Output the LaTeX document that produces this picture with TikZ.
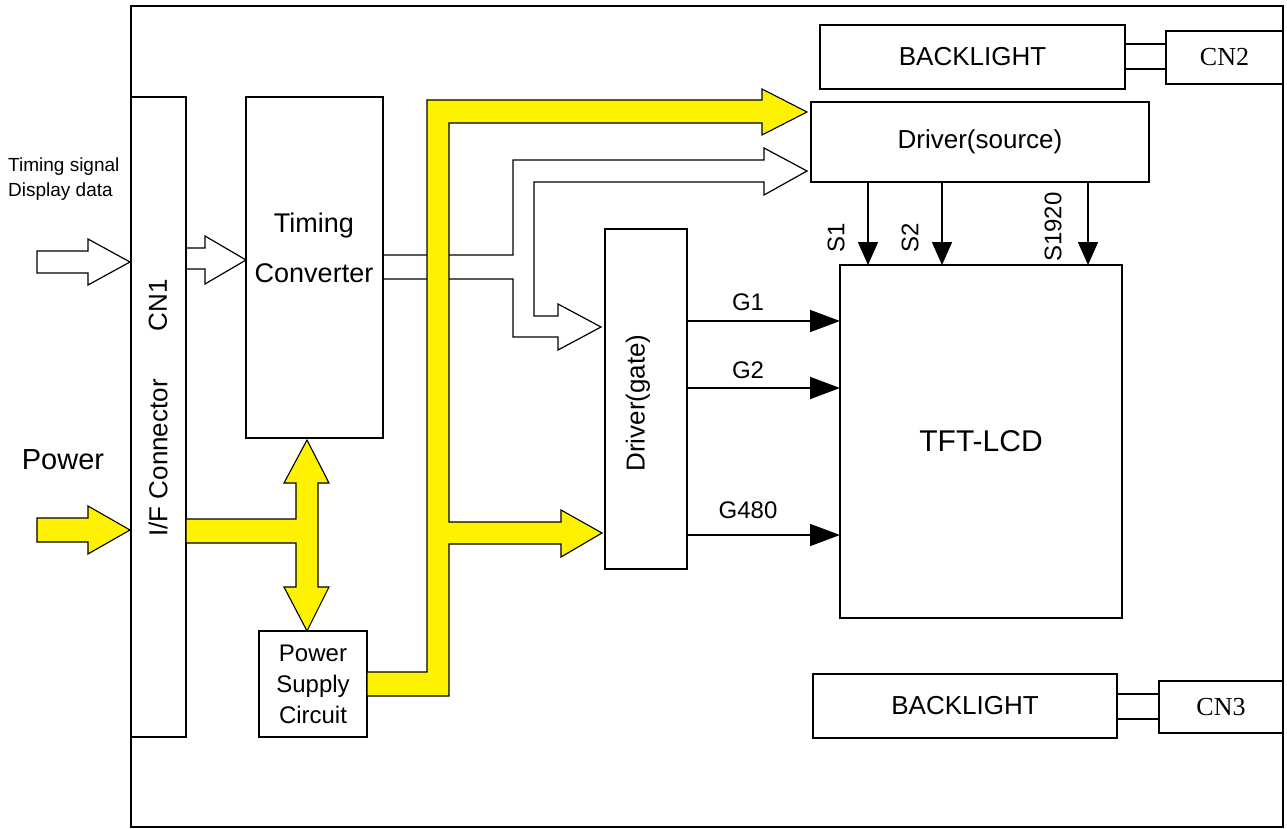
\documentclass[tikz,border=0pt]{standalone}
\usepackage{fontspec}
\setmainfont{Liberation Sans}
\newfontfamily\cnfont{Liberation Serif}
\usetikzlibrary{arrows.meta}
\begin{document}
\begin{tikzpicture}[x=1pt,y=-1pt,
  box/.style={draw, line width=1.4pt, inner sep=0pt, outer sep=0pt},
  lbl/.style={inner sep=0pt, font=\fontsize{24}{28}\selectfont},
  bigl/.style={inner sep=0pt, font=\fontsize{26}{30}\selectfont},
  cnl/.style={inner sep=0pt, font=\cnfont\fontsize{26}{30}\selectfont},
  ybus/.style={draw, line width=1.1pt, fill=yellow},
  hbus/.style={draw, line width=1.2pt},
  garrow/.style={line width=1.6pt, -{Triangle[length=30pt,width=22pt]}},
  sarrow/.style={line width=1.6pt, -{Triangle[length=23pt,width=20pt]}},
  wire/.style={line width=1.2pt}]
\useasboundingbox (0,0) rectangle (1287,829);

% frame
\node[box, minimum width=1152pt, minimum height=821pt] (frame) at (707,416.5) {};

% boxes
\node[box, minimum width=55pt, minimum height=640pt] (cn1) at (158.5,417) {};
\node[box, minimum width=137pt, minimum height=341pt] (tc) at (314.5,267.5) {};
\node[box, minimum width=108pt, minimum height=106pt, align=center, font=\fontsize{24}{31}\selectfont] (psc) at (313,684) {Power\\Supply\\Circuit};
\node[box, minimum width=82pt, minimum height=340pt] (dg) at (646,399) {};
\node[box, minimum width=338pt, minimum height=80pt, font=\fontsize{26}{30}\selectfont] (ds) at (980,142) {Driver(source)};
\node[box, minimum width=305pt, minimum height=64pt, font=\fontsize{26}{30}\selectfont] (bl1) at (972.5,57) {BACKLIGHT};
\node[box, minimum width=117pt, minimum height=53pt, font=\cnfont\fontsize{26}{30}\selectfont] (cn2) at (1224.5,57.5) {CN2};
\node[box, minimum width=282pt, minimum height=353pt, font=\fontsize{30}{34}\selectfont] (tft) at (981,441.5) {TFT-LCD};
\node[box, minimum width=304pt, minimum height=64pt, font=\fontsize{26}{30}\selectfont] (bl2) at (965,706) {BACKLIGHT};
\node[box, minimum width=124pt, minimum height=52pt, font=\cnfont\fontsize{26}{30}\selectfont] (cn3) at (1221,707) {CN3};

% texts
\node[bigl] (tTiming) at (314,226) {\fontsize{27}{30}\selectfont Timing};
\node[bigl] (tConv) at (314,273) {\fontsize{27}{30}\selectfont Converter};
\node[bigl, rotate=90] (tcn1) at (158,305) {CN1};
\node[bigl, rotate=90] (tif) at (158,458) {I/F Connector};
\node[bigl, rotate=90] (tdg) at (638,403) {Driver(gate)};
\node[inner sep=0pt, font=\fontsize{29}{32}\selectfont] (tpower) at (63,460) {Power};
\node[inner sep=0pt, anchor=west, font=\fontsize{19}{22}\selectfont] (tts) at (8,167) {Timing signal};
\node[inner sep=0pt, anchor=west, font=\fontsize{19}{22}\selectfont] (tdd) at (8,192) {Display data};

% backlight connections
\draw[wire] (bl1.east |- 0,44) -- (cn2.west |- 0,44);
\draw[wire] (bl1.east |- 0,69) -- (cn2.west |- 0,69);
\draw[wire] (bl2.east |- 0,694) -- (cn3.west |- 0,694);
\draw[wire] (bl2.east |- 0,719) -- (cn3.west |- 0,719);

% hollow input arrows
\draw[hbus] (37,251) -- (88,251) -- (88,239) -- (130,262) -- (88,285) -- (88,273) -- (37,273) -- cycle;
\draw[hbus] (186,248) -- (205,248) -- (205,236) -- (246,260) -- (205,284) -- (205,269) -- (186,269);

% hollow signal bus from timing converter
\draw[hbus] (383,255) -- (513,255) -- (513,160) -- (764,160) -- (764,148) -- (807,171) -- (764,195) -- (764,182)
  -- (534,182) -- (534,316) -- (558,316) -- (558,304) -- (601,327) -- (558,350) -- (558,337)
  -- (513,337) -- (513,279) -- (383,279);

% yellow power arrows
\draw[ybus] (37,518) -- (88,518) -- (88,506) -- (130,530) -- (88,554) -- (88,542) -- (37,542) -- cycle;
\draw[ybus] (186,519) -- (296,519) -- (296,483) -- (284,483) -- (307,440) -- (329,483) -- (318,483)
  -- (318,587) -- (329,587) -- (307,631) -- (284,587) -- (296,587) -- (296,543) -- (186,543) -- cycle;
\draw[ybus] (367,672) -- (427,672) -- (427,100) -- (762,100) -- (762,89) -- (807,112) -- (762,135) -- (762,123)
  -- (449,123) -- (449,522) -- (561,522) -- (561,510) -- (602,533) -- (561,557) -- (561,544)
  -- (449,544) -- (449,696) -- (367,696) -- cycle;

% gate lines
\draw[garrow] (dg.east |- 0,321) -- (tft.west |- 0,321);
\draw[garrow] (dg.east |- 0,388) -- (tft.west |- 0,388);
\draw[garrow] (dg.east |- 0,535) -- (tft.west |- 0,535);
\node[lbl] (g1) at (748,302) {G1};
\node[lbl] (g2) at (748,370) {G2};
\node[lbl] (g480) at (748,510) {G480};

% source lines
\draw[sarrow] (ds.south -| 868,0) -- (tft.north -| 868,0);
\draw[sarrow] (ds.south -| 942,0) -- (tft.north -| 942,0);
\draw[sarrow] (ds.south -| 1088,0) -- (tft.north -| 1088,0);
\node[lbl, rotate=90] (s1) at (836,238) {S1};
\node[lbl, rotate=90] (s2) at (910,238) {S2};
\node[lbl, rotate=90] (s1920) at (1053,227) {S1920};
\end{tikzpicture}
\end{document}
